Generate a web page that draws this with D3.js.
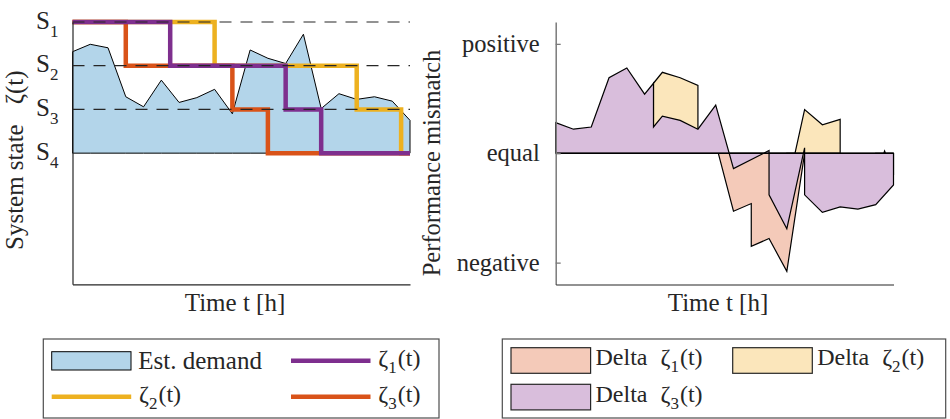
<!DOCTYPE html>
<html>
<head>
<meta charset="utf-8">
<script src="https://cdn.jsdelivr.net/npm/d3@7"></script>
<style>
  body { margin: 0; background: #fff; }
  svg { display: block; }
  text { font-family: "Liberation Serif", "Times New Roman", serif; fill: #262626; }
</style>
</head>
<body>
<svg id="chart" width="950" height="419"></svg>
<script>
// ---- data ---------------------------------------------------------------
// hourly time index
const hours = d3.range(20);
// estimated demand expressed on the state scale (1 = S1 ... 4 = S4)
const demand = [1.68, 1.51, 1.59, 2.71, 2.94, 2.33, 2.84, 2.73, 2.54, 3.10,
                1.64, 1.83, 1.95, 1.28, 2.98, 2.64, 2.77, 2.71, 2.81, 3.25];
const stateLevels = [1, 2, 3, 4];
const stateNames = ["1", "2", "3", "4"];

// switching schedules (switch time, state held from that time)
const zeta1Times = [0, 5.5, 12, 14, 19];
const zeta1States = [1, 2, 3, 4, 4];
const zeta2Times = [0, 8, 16, 18.5, 19];
const zeta2States = [1, 2, 3, 4, 4];
const zeta3Times = [0, 3, 9, 11, 19];
const zeta3States = [1, 2, 3, 4, 4];

// performance mismatch per schedule (null splits a series)
const delta1Times  = [9, 10, 11, 11, 12, 13, 14];
const delta1Values = [0.09, -0.53, -0.46, -0.85, -0.78, -1.08, 0.0];
const delta2Times  = [5.5, 6, 7, 8, null, 13, 14, 15, 16, null, 18, 18.5, 19];
const delta2Values = [0.64, 0.74, 0.69, 0.62, null, -0.34, 0.40, 0.26, 0.31, null, -0.2, 0.02, -0.2];
const delta3Times  = [0, 1, 2, 3, 4, 5, 5.5, 5.5, 6, 7, 8, 9, 10, 12, 12, 13, 14, 14, 15, 16, 17, 18, 19];
const delta3Values = [0.28, 0.22, 0.24, 0.69, 0.78, 0.54, 0.64, 0.24, 0.34, 0.30, 0.22, 0.44,
                      -0.14, 0.025, -0.38, -0.69, 0.05, -0.38, -0.54, -0.49, -0.51, -0.47, -0.29];
const mismatchTicks = [1, 0, -1];
const mismatchNames = ["positive", "equal", "negative"];

// ---- styles -------------------------------------------------------------
const C = {
  ink: "#262626",
  demand: "#b3d5ea",
  z1: "#7e2f8e", z2: "#edb120", z3: "#d95319",
  d1: "#f4cab9", d2: "#fbe6bb", d3: "#d9bedc"
};

const svg = d3.select("#chart");

// ---- left panel: system state --------------------------------------------
const xL = d3.scaleLinear().domain([0, 19]).range([72.5, 410]);
const yL = d3.scaleLinear().domain([1, 7]).range([22, 284.3]);
const left = svg.append("g");

left.append("path")
  .datum(hours)
  .attr("d", d3.area().x(i => xL(i)).y0(yL(4)).y1(i => yL(demand[i])))
  .attr("fill", C.demand)
  .attr("stroke", "#000").attr("stroke-width", 1).attr("stroke-linejoin", "miter");

const stepLine = d3.line().curve(d3.curveStepAfter).x(d => xL(d[0])).y(d => yL(d[1]));
[[zeta2Times, zeta2States, C.z2], [zeta3Times, zeta3States, C.z3], [zeta1Times, zeta1States, C.z1]]
  .forEach(([ts, ss, col]) => {
    left.append("path")
      .attr("d", stepLine(ts.map((t, i) => [t, ss[i]])))
      .attr("fill", "none").attr("stroke", col).attr("stroke-width", 4.5)
      .attr("stroke-linejoin", "miter").attr("stroke-linecap", "butt");
  });

left.selectAll("line.level")
  .data(stateLevels.slice(0, 3))
  .join("line").attr("class", "level")
  .attr("x1", xL(0)).attr("x2", xL(19))
  .attr("y1", d => yL(d)).attr("y2", d => yL(d))
  .attr("stroke", C.ink).attr("stroke-width", 1.2).attr("stroke-dasharray", "12,9");

left.append("g")
  .attr("transform", `translate(${xL(0)},0)`)
  .call(d3.axisLeft(yL).tickValues(stateLevels).tickSize(0).tickPadding(14).tickFormat(() => "S"))
  .call(g => {
    g.select(".domain").attr("stroke", C.ink).attr("stroke-width", 1.2);
    g.selectAll(".tick text")
      .attr("font-size", 25).attr("dy", null).attr("y", 6).attr("fill", C.ink)
      .attr("font-family", "Liberation Serif")
      .each(function(d, i) {
        d3.select(this).append("tspan").attr("font-size", 17).attr("dy", 8).text(stateNames[i]);
      });
  });

left.append("g")
  .attr("transform", `translate(0,${yL(7)})`)
  .call(d3.axisBottom(xL).tickValues([]).tickSizeOuter(0))
  .call(g => g.select(".domain").attr("stroke", C.ink).attr("stroke-width", 1.2));

left.append("text")
  .attr("x", 235).attr("y", 311).attr("text-anchor", "middle").attr("font-size", 25)
  .text("Time t [h]");

const yTitle = left.append("text")
  .attr("transform", "translate(23,250) rotate(-90)")
  .attr("font-size", 25);
yTitle.append("tspan").text("System state");
yTitle.append("tspan").attr("dx", 20).text("ζ(t)");

// ---- right panel: performance mismatch -----------------------------------
const xR = d3.scaleLinear().domain([0, 19]).range([555.7, 893.5]);
const yR = d3.scaleLinear().domain([-1.2, 1.2]).range([284.5, 22]);
const right = svg.append("g");

const deltaArea = d3.area()
  .defined(d => d[0] !== null)
  .x(d => xR(d[0])).y0(yR(0)).y1(d => yR(d[1]));

[[delta1Times, delta1Values, C.d1], [delta2Times, delta2Values, C.d2], [delta3Times, delta3Values, C.d3]]
  .forEach(([ts, vs, col]) => {
    right.append("path")
      .attr("d", deltaArea(ts.map((t, i) => [t, vs[i]])))
      .attr("fill", col).attr("stroke", "#000").attr("stroke-width", 1.2)
      .attr("stroke-linejoin", "miter");
  });

right.append("line")
  .attr("x1", xR(0)).attr("x2", xR(19)).attr("y1", yR(0)).attr("y2", yR(0))
  .attr("stroke", "#000").attr("stroke-width", 1.3);

right.append("g")
  .attr("transform", `translate(${xR(0)},0)`)
  .call(d3.axisLeft(yR).tickValues(mismatchTicks).tickSizeInner(-5).tickSizeOuter(0).tickPadding(16)
        .tickFormat((d, i) => mismatchNames[i]))
  .call(g => {
    g.select(".domain").attr("stroke", "#7a7a7a").attr("stroke-width", 1.5);
    g.selectAll(".tick line").attr("stroke", "#7a7a7a").attr("stroke-width", 1.3);
    g.selectAll(".tick text").attr("font-size", 24.5).attr("dy", null).attr("y", 7.5)
      .attr("fill", C.ink).attr("font-family", "Liberation Serif");
  });

right.append("g")
  .attr("transform", `translate(0,${yR(-1.2)})`)
  .call(d3.axisBottom(xR).tickValues([]).tickSizeOuter(0))
  .call(g => g.select(".domain").attr("stroke", C.ink).attr("stroke-width", 1.2));

right.append("text")
  .attr("x", 718).attr("y", 311).attr("text-anchor", "middle").attr("font-size", 25)
  .text("Time t [h]");

right.append("text")
  .attr("transform", "translate(440,163) rotate(-90)")
  .attr("text-anchor", "middle").attr("font-size", 24.5)
  .text("Performance mismatch");

// ---- legends ------------------------------------------------------------
function zetaLabel(sel, k, subSize) {
  sel.append("tspan").text("ζ");
  sel.append("tspan").attr("font-size", subSize).attr("dy", 7).text(k);
  sel.append("tspan").attr("dy", -7).attr("dx", 1).text("(t)");
}

const legL = svg.append("g");
legL.append("rect").attr("x", 43.3).attr("y", 339).attr("width", 395.7).attr("height", 79)
  .attr("fill", "#fff").attr("stroke", "#4d4d4d").attr("stroke-width", 1.2);
legL.append("rect").attr("x", 51.7).attr("y", 351.7).attr("width", 79.3).attr("height", 18.3)
  .attr("fill", C.demand).attr("stroke", "#000").attr("stroke-width", 1);
legL.append("text").attr("x", 138.3).attr("y", 368.5).attr("font-size", 25).text("Est. demand");

const lineItems = [
  { x: 291, y: 360.7, col: C.z1, k: "1" },
  { x: 51.7, y: 396.7, col: C.z2, k: "2" },
  { x: 291, y: 396.7, col: C.z3, k: "3" }
];
lineItems.forEach(it => {
  legL.append("line").attr("x1", it.x).attr("x2", it.x + 79.5).attr("y1", it.y).attr("y2", it.y)
    .attr("stroke", it.col).attr("stroke-width", 4.5);
  const t = legL.append("text").attr("x", it.x + 87.3).attr("y", it.y + 5.5).attr("font-size", 24);
  zetaLabel(t, it.k, 17);
});

const legR = svg.append("g");
legR.append("rect").attr("x", 502.3).attr("y", 339).attr("width", 443.4).attr("height", 79)
  .attr("fill", "#fff").attr("stroke", "#4d4d4d").attr("stroke-width", 1.2);
const patchItems = [
  { x: 511, y: 347.7, col: C.d1, k: "1" },
  { x: 732.7, y: 347.7, col: C.d2, k: "2" },
  { x: 511, y: 384.3, col: C.d3, k: "3" }
];
patchItems.forEach(it => {
  legR.append("rect").attr("x", it.x).attr("y", it.y).attr("width", 79.6).attr("height", 25.6)
    .attr("fill", it.col).attr("stroke", C.ink).attr("stroke-width", 1.2);
  const t = legR.append("text").attr("x", it.x + 84.5).attr("y", it.y + 17.5).attr("font-size", 24);
  t.append("tspan").text("Delta");
  t.append("tspan").attr("dx", 13).text("ζ");
  t.append("tspan").attr("font-size", 17).attr("dy", 7).text(it.k);
  t.append("tspan").attr("dy", -7).attr("dx", 1).text("(t)");
});
</script>
</body>
</html>
